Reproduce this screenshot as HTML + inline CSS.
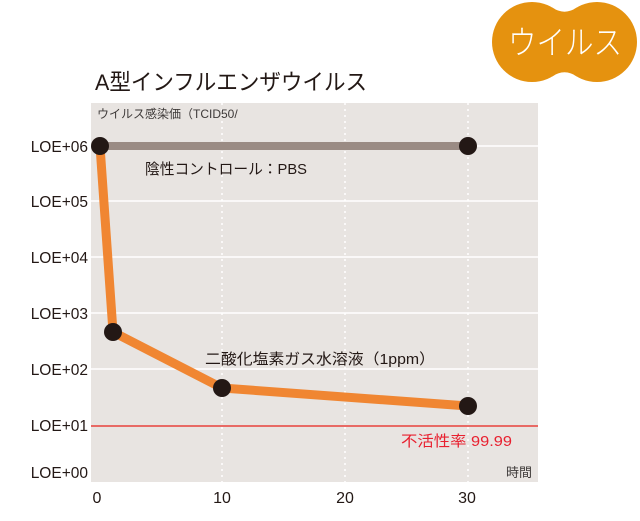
<!DOCTYPE html>
<html><head><meta charset="utf-8"><style>
html,body{margin:0;padding:0;background:#fff;}
svg{display:block;}
text{font-family:"Liberation Sans","Noto Sans CJK JP",sans-serif;}
</style></head><body>
<svg width="640" height="521" viewBox="0 0 640 521" xmlns="http://www.w3.org/2000/svg">
<!-- badge -->
<g fill="#e5920f">
<circle cx="532" cy="42" r="40"/>
<circle cx="597" cy="42" r="40"/>
<path d="M552,7.4 Q564.5,16 577,7.4 L577,76.6 Q564.5,68 552,76.6 Z"/>
</g>
<text x="565" y="54" font-size="33" fill="#fff" text-anchor="middle" font-weight="300" textLength="114" lengthAdjust="spacingAndGlyphs">ウイルス</text>
<!-- title -->
<text x="95" y="90" font-size="22.5" fill="#231815" textLength="272" lengthAdjust="spacingAndGlyphs">A型インフルエンザウイルス</text>
<!-- plot bg -->
<rect x="91" y="103" width="447" height="379" fill="#e8e4e1"/>
<!-- grid -->
<g stroke="#ffffff" stroke-width="1.5">
<line x1="91" y1="146" x2="538" y2="146"/>
<line x1="91" y1="201" x2="538" y2="201"/>
<line x1="91" y1="257" x2="538" y2="257"/>
<line x1="91" y1="313" x2="538" y2="313"/>
<line x1="91" y1="369" x2="538" y2="369"/>
</g>
<g stroke="#ffffff" stroke-width="1.5" stroke-dasharray="2,4">
<line x1="222" y1="103" x2="222" y2="482"/>
<line x1="345" y1="103" x2="345" y2="482"/>
<line x1="468" y1="103" x2="468" y2="482"/>
</g>
<line x1="91" y1="426" x2="538" y2="426" stroke="#e8413c" stroke-width="1.5"/>
<!-- series -->
<line x1="100" y1="146" x2="468" y2="146" stroke="#9a8b84" stroke-width="8"/>
<polyline points="100,146 113,332 222,388 468,406" fill="none" stroke="#f08632" stroke-width="9" stroke-linejoin="round"/>
<g fill="#231815">
<circle cx="100" cy="146" r="9"/>
<circle cx="468" cy="146" r="9"/>
<circle cx="113" cy="332" r="9"/>
<circle cx="222" cy="388" r="9"/>
<circle cx="468" cy="406" r="9"/>
</g>
<!-- labels in plot -->
<text x="97" y="118" font-size="12" fill="#3e3a39">ウイルス感染価（TCID50/</text>
<text x="145" y="174" font-size="15" fill="#231815" textLength="162" lengthAdjust="spacingAndGlyphs">陰性コントロール：PBS</text>
<text x="205" y="364" font-size="15" fill="#231815" textLength="230" lengthAdjust="spacingAndGlyphs">二酸化塩素ガス水溶液（1ppm）</text>
<text x="401" y="446" font-size="15" fill="#e8202f" textLength="111" lengthAdjust="spacingAndGlyphs">不活性率 99.99</text>
<text x="506" y="477" font-size="13" fill="#3e3a39">時間</text>
<!-- y labels -->
<g font-size="15.5" fill="#231815" text-anchor="end">
<text x="88" y="152">LOE+06</text>
<text x="88" y="207">LOE+05</text>
<text x="88" y="263">LOE+04</text>
<text x="88" y="319">LOE+03</text>
<text x="88" y="375">LOE+02</text>
<text x="88" y="431">LOE+01</text>
<text x="88" y="478">LOE+00</text>
</g>
<!-- x labels -->
<g font-size="16" fill="#231815" text-anchor="middle">
<text x="97" y="503">0</text>
<text x="222" y="503">10</text>
<text x="345" y="503">20</text>
<text x="467" y="503">30</text>
</g>
</svg>
</body></html>
